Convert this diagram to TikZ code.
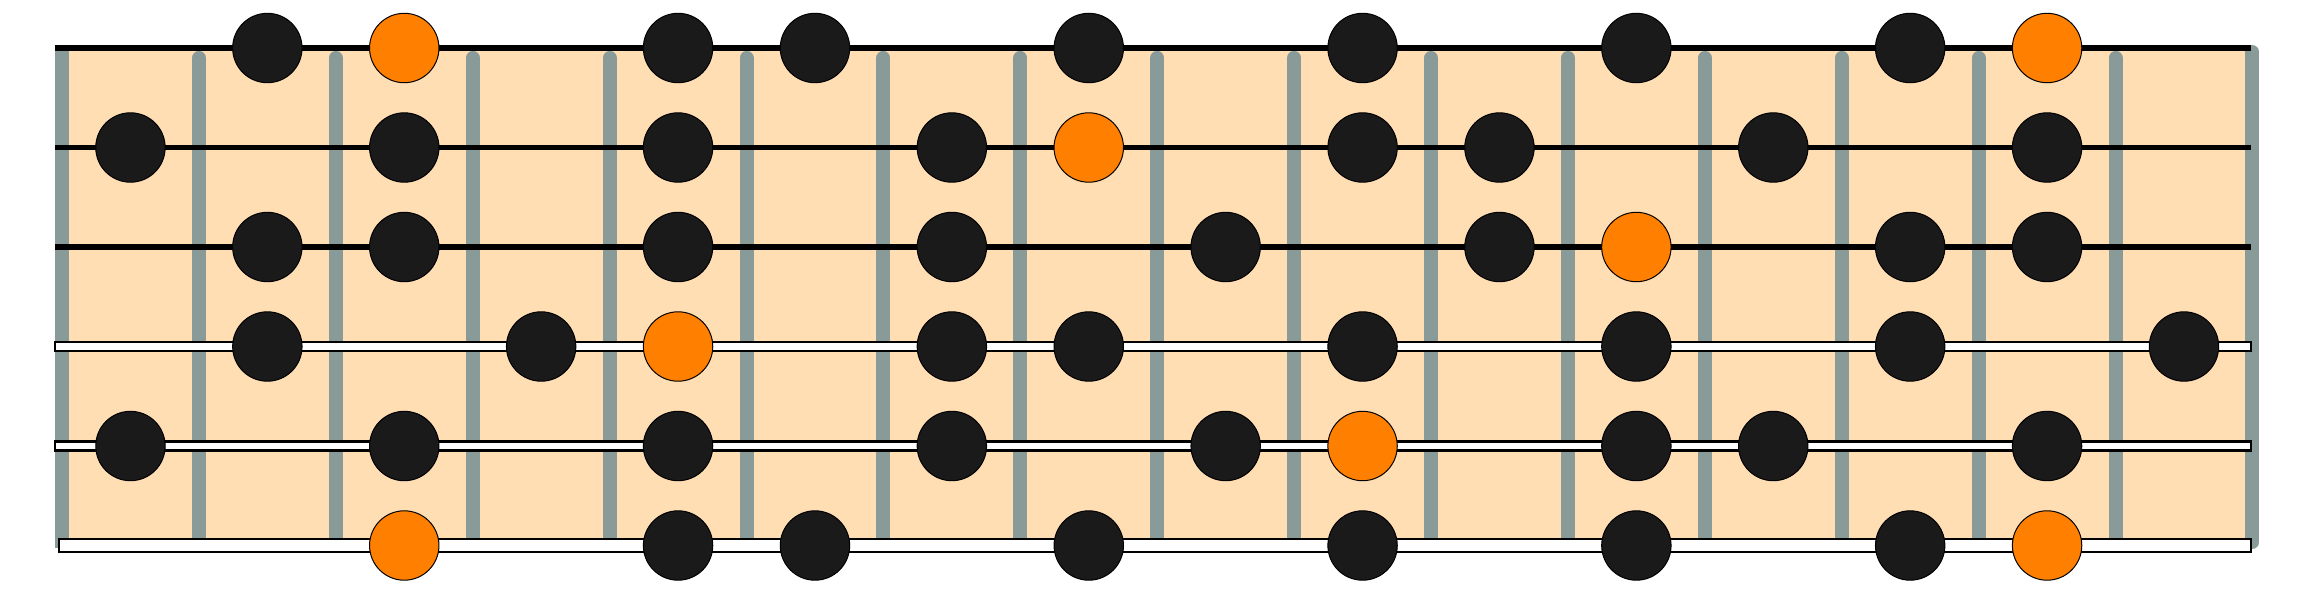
\documentclass[tikz,border=0pt]{standalone}
\usepackage{tikz}

\definecolor{neck}{RGB}{255,222,180}
\definecolor{fretgray}{RGB}{136,155,153}
\definecolor{dotblack}{RGB}{26,26,26}
\definecolor{rootorange}{RGB}{255,128,0}

\begin{document}
\begin{tikzpicture}[
    x=1.369cm, y=-0.995cm,
    fret/.style={fretgray, line width=0.14cm, line cap=round},
    nut/.style={fretgray, line width=0.14cm},
    plainstring/.style={black, line width=0.055cm},
    woundstring/.style={draw=black, fill=white, line width=0.023cm},
    note/.style={circle, draw=black, line width=0.01cm, fill=dotblack, minimum size=0.694cm, inner sep=0pt},
    root/.style={note, fill=rootorange}
]
\useasboundingbox (-0.4529,-0.4824) rectangle (16.4207,5.4673);

% 指板
\fill[neck] (0,0) rectangle (16,5);

% 品丝
\draw[nut] (0,-0.01) -- (0,5.03);
\foreach \f in {1,...,15}
    \draw[fret] (\f,0.1) -- (\f,4.98);
\draw[fret] (16,0.04) -- (16,4.965);

% 琴弦
\foreach \s in {0,1,2}
    \draw[plainstring] (-0.05,\s) -- (15.99,\s);
\foreach \s in {3,4}
    \draw[woundstring] (-0.05,\s-0.045) rectangle (15.99,\s+0.045);
\draw[woundstring] (-0.022,4.934) rectangle (15.99,5.066);

% 音符
\foreach \s/\list in {1/{2,5,6,8,10,12,14}, 2/{1,3,5,7,10,11,13,15}, 3/{2,3,5,7,9,11,14,15},
                      4/{2,4,7,8,10,12,14,16}, 5/{1,3,5,7,9,12,13,15}, 6/{5,6,8,10,12,14}}
    \foreach \f in \list
        \node[note] (n\s-\f) at (\f-0.5,\s-1) {};

% 根音
\foreach \s/\f in {1/3, 1/15, 2/8, 3/12, 4/5, 5/10, 6/3, 6/15}
    \node[root] (r\s-\f) at (\f-0.5,\s-1) {};

\end{tikzpicture}
\end{document}
